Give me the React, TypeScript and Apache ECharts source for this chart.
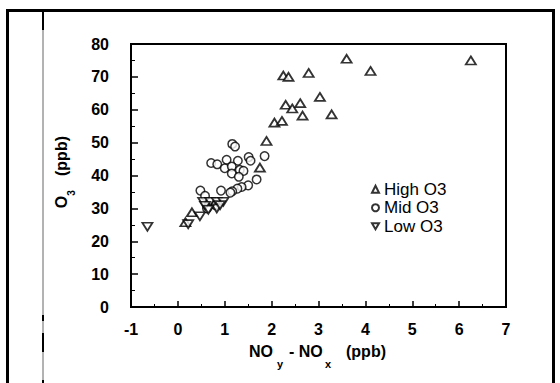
import React, { useEffect, useRef } from "react";
import * as echarts from "echarts";

const highX = [3.6, 6.25, 4.11, 2.79, 2.25, 2.36, 3.03, 2.61, 2.3, 2.44, 2.66, 3.28, 2.06, 2.22, 1.89, 1.75, 0.3, 0.16];
const highY = [75.5, 75.0, 71.8, 71.2, 70.4, 70.0, 63.9, 62.0, 61.5, 60.4, 58.2, 58.6, 56.1, 56.6, 50.5, 42.4, 28.8, 25.8];

const midX = [1.16, 1.22, 0.71, 0.84, 1.04, 1.28, 1.51, 1.55, 1.85, 1.0, 1.15, 1.32, 1.4, 1.15, 1.3, 1.68, 1.5, 1.36, 1.27, 1.16, 1.12, 0.92, 0.48, 0.58, 0.62, 0.8];
const midY = [49.6, 48.8, 43.8, 43.4, 44.8, 44.5, 45.6, 44.5, 45.9, 42.2, 42.7, 41.7, 41.4, 40.6, 39.6, 38.8, 37.0, 36.5, 36.0, 35.2, 34.8, 35.4, 35.4, 33.8, 30.0, 31.0];

const lowX = [-0.65, 0.22, 0.47, 0.54, 0.69, 0.83, 0.97, 0.58, 0.83, 0.65, 0.9];
const lowY = [24.4, 25.2, 27.6, 32.0, 32.0, 32.0, 32.0, 30.8, 30.0, 29.6, 31.0];

const seriesNames = ["High O3", "Mid O3", "Low O3"];

const FONT = "Liberation Sans, Arial, Helvetica, sans-serif";

function zip(xs: number[], ys: number[]) {
  return xs.map((x, i) => [x, ys[i]]);
}

export default function App() {
  const ref = useRef<HTMLDivElement>(null);
  useEffect(() => {
    if (!ref.current) return;
    const chart = echarts.init(ref.current, undefined, { renderer: "svg" });
    const markerStyle = { color: "#fff", borderColor: "#000", borderWidth: 1.8 };
    const downTri = "path://M0,0 L10,0 L5,8.66 Z";
    const titleStyle = { fontSize: 16, fontWeight: "bold", fontFamily: FONT, fill: "#000" };
    const subStyle = { fontSize: 11, fontWeight: "bold", fontFamily: FONT, fill: "#000" };
    chart.setOption({
      animation: false,
      backgroundColor: "#fff",
      grid: {
        left: 131,
        top: 44,
        width: 375,
        height: 263,
        show: true,
        borderColor: "#000",
        borderWidth: 2,
        backgroundColor: "transparent",
      },
      xAxis: {
        type: "value",
        min: -1,
        max: 7,
        interval: 1,
        axisLine: { onZero: false, lineStyle: { color: "#000", width: 2 } },
        axisTick: { inside: true, length: 6, lineStyle: { color: "#000", width: 1.5 } },
        minorTick: { show: true, splitNumber: 2, length: 3, lineStyle: { color: "#000", width: 1 } },
        splitLine: { show: false },
        axisLabel: { margin: 14, color: "#000", fontSize: 16, fontWeight: "bold", fontFamily: FONT },
      },
      yAxis: {
        type: "value",
        min: 0,
        max: 80,
        interval: 10,
        axisLine: { onZero: false, lineStyle: { color: "#000", width: 2 } },
        axisTick: { inside: true, length: 7, lineStyle: { color: "#000", width: 1.5 } },
        minorTick: { show: true, splitNumber: 2, length: 4, lineStyle: { color: "#000", width: 1 } },
        splitLine: { show: false },
        axisLabel: { margin: 22, color: "#000", fontSize: 16, fontWeight: "bold", fontFamily: FONT },
      },
      legend: {
        orient: "vertical",
        left: 371,
        top: 180,
        padding: 0,
        itemGap: 0,
        itemWidth: 7,
        itemHeight: 7,
        textStyle: { color: "#000", fontSize: 17, lineHeight: 18.5, fontFamily: FONT },
        data: [
          { name: seriesNames[0], icon: "triangle" },
          { name: seriesNames[1], icon: "circle" },
          { name: seriesNames[2], icon: downTri },
        ],
      },
      series: [
        {
          name: seriesNames[0],
          type: "scatter",
          symbol: "triangle",
          symbolSize: [10, 8],
          itemStyle: markerStyle,
          data: zip(highX, highY),
        },
        {
          name: seriesNames[1],
          type: "scatter",
          symbol: "circle",
          symbolSize: 8.5,
          itemStyle: { color: "#fff", borderColor: "#000", borderWidth: 1.5 },
          data: zip(midX, midY),
        },
        {
          name: seriesNames[2],
          type: "scatter",
          symbol: downTri,
          symbolSize: [10, 8],
          itemStyle: markerStyle,
          data: zip(lowX, lowY),
        },
      ],
      graphic: [
        {
          type: "rect",
          shape: { x: 7.5, y: 10.5, width: 546, height: 400 },
          style: { fill: "none", stroke: "#000", lineWidth: 3 },
          silent: true,
        },
        { type: "line", shape: { x1: 43, y1: 10, x2: 43, y2: 383 }, style: { stroke: "#666", lineWidth: 1 } },
        { type: "line", shape: { x1: 43, y1: 10, x2: 43, y2: 30 }, style: { stroke: "#000", lineWidth: 2 } },
        { type: "line", shape: { x1: 43, y1: 315, x2: 43, y2: 321 }, style: { stroke: "#000", lineWidth: 2 } },
        { type: "line", shape: { x1: 43, y1: 333, x2: 43, y2: 352 }, style: { stroke: "#000", lineWidth: 2 } },
        { type: "line", shape: { x1: 43, y1: 380, x2: 43, y2: 383 }, style: { stroke: "#000", lineWidth: 2 } },
        // x-axis title
        { type: "text", x: 249, y: 351, style: { ...titleStyle, text: "NO", align: "left", verticalAlign: "middle" } },
        { type: "text", x: 277, y: 364, style: { ...subStyle, text: "y", align: "left", verticalAlign: "middle" } },
        { type: "text", x: 289, y: 351, style: { ...titleStyle, text: "- NO", align: "left", verticalAlign: "middle" } },
        { type: "text", x: 325, y: 364, style: { ...subStyle, text: "x", align: "left", verticalAlign: "middle" } },
        { type: "text", x: 346, y: 351, style: { ...titleStyle, text: "(ppb)", align: "left", verticalAlign: "middle" } },
        // y-axis title
        { type: "text", x: 61, y: 202, rotation: Math.PI / 2, style: { ...titleStyle, text: "O", align: "center", verticalAlign: "middle" } },
        { type: "text", x: 71, y: 193, rotation: Math.PI / 2, style: { ...subStyle, fontSize: 10, text: "3", align: "center", verticalAlign: "middle" } },
        { type: "text", x: 61, y: 156, rotation: Math.PI / 2, style: { ...titleStyle, text: "(ppb)", align: "center", verticalAlign: "middle" } },
      ],
    });
    return () => chart.dispose();
  }, []);
  return (
    <div
      ref={ref}
      style={{ position: "fixed", left: 0, top: 0, width: 560, height: 383, background: "#fff" }}
    />
  );
}
